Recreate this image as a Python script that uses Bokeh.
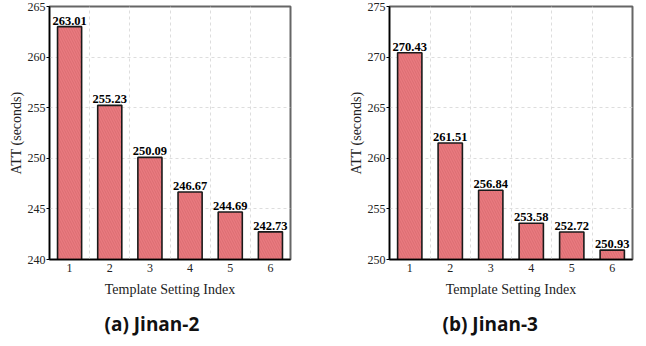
from bokeh.plotting import figure
from bokeh.layouts import row
from bokeh.models import FixedTicker, Title, ColumnDataSource, Range1d
from bokeh.core.properties import value
from bokeh.embed import file_html
from bokeh.resources import INLINE

categories = [1, 2, 3, 4, 5, 6]
jinan2_att = [263.01, 255.23, 250.09, 246.67, 244.69, 242.73]
jinan3_att = [270.43, 261.51, 256.84, 253.58, 252.72, 250.93]
jinan2_yticks = [240, 245, 250, 255, 260, 265]
jinan3_yticks = [250, 255, 260, 265, 270, 275]
subtitles = ["(a) Jinan-2", "(b) Jinan-3"]
xlabel = "Template Setting Index"
ylabel = "ATT (seconds)"

SERIF = "Liberation Serif"


def make_panel(vals, yticks, subtitle, width, mb_left, mb_right, t_offset):
    p = figure(width=width, height=346, output_backend="svg", toolbar_location=None,
               x_range=Range1d(0.5, 6.5), y_range=Range1d(yticks[0], yticks[-1]),
               min_border_left=mb_left, min_border_right=mb_right,
               min_border_top=6, min_border_bottom=87)
    src = ColumnDataSource(dict(x=categories, top=vals,
                                lab=["%.2f" % v for v in vals]))
    p.vbar(x="x", top="top", bottom=yticks[0], width=0.6, source=src,
           fill_color="#E97A7F", line_color="#1a1a1a", line_width=1.6,
           hatch_pattern="\\", hatch_color="#c4555b", hatch_alpha=0.45,
           hatch_scale=5, hatch_weight=0.8)
    p.text(x="x", y="top", text="lab", source=src, y_offset=-2,
           text_align="center", text_baseline="bottom",
           text_font=value(SERIF), text_font_style="bold",
           text_font_size="12.5px", text_color="black")

    p.outline_line_color = "#666666"
    p.outline_line_width = 2

    p.xaxis.ticker = FixedTicker(ticks=categories)
    p.yaxis.ticker = FixedTicker(ticks=yticks)
    p.xgrid.ticker = FixedTicker(ticks=[1.5, 2.5, 3.5, 4.5, 5.5])
    for g in (p.xgrid, p.ygrid):
        g.grid_line_color = "#dddddd"
        g.grid_line_dash = "3 3"
        g.grid_line_width = 1

    for ax in (p.xaxis, p.yaxis):
        ax.axis_line_color = "black"
        ax.axis_line_width = 1.5
        ax.major_tick_line_color = "black"
        ax.minor_tick_line_color = None
        ax.major_label_text_font = SERIF
        ax.major_label_text_font_size = "12px"
        ax.major_label_text_color = "#222222"
        ax.axis_label_text_font = SERIF
        ax.axis_label_text_font_size = "14px"
        ax.axis_label_text_font_style = "normal"
        ax.axis_label_text_color = "#222222"
    p.xaxis.major_tick_out = 0
    p.xaxis.major_tick_in = 0
    p.xaxis.major_label_standoff = 4
    p.xaxis.axis_label = xlabel
    p.xaxis.axis_label_standoff = 7
    p.yaxis.major_tick_out = 3
    p.yaxis.major_tick_in = 0
    p.yaxis.major_label_standoff = 1
    p.yaxis.axis_label = ylabel
    p.yaxis.axis_label_standoff = 1

    t = Title(text=subtitle, align="left", offset=t_offset, standoff=19,
              text_font="Open Sans", text_font_size="19px", text_font_style="bold",
              text_color="#111111")
    p.add_layout(t, "below")
    return p


p1 = make_panel(jinan2_att, jinan2_yticks, subtitles[0], 330, 49, 40, 55)
p2 = make_panel(jinan3_att, jinan3_yticks, subtitles[1], 316, 59, 14, 53)
layout = row(p1, p2)

open("out.html", "w").write(file_html(layout, INLINE))
